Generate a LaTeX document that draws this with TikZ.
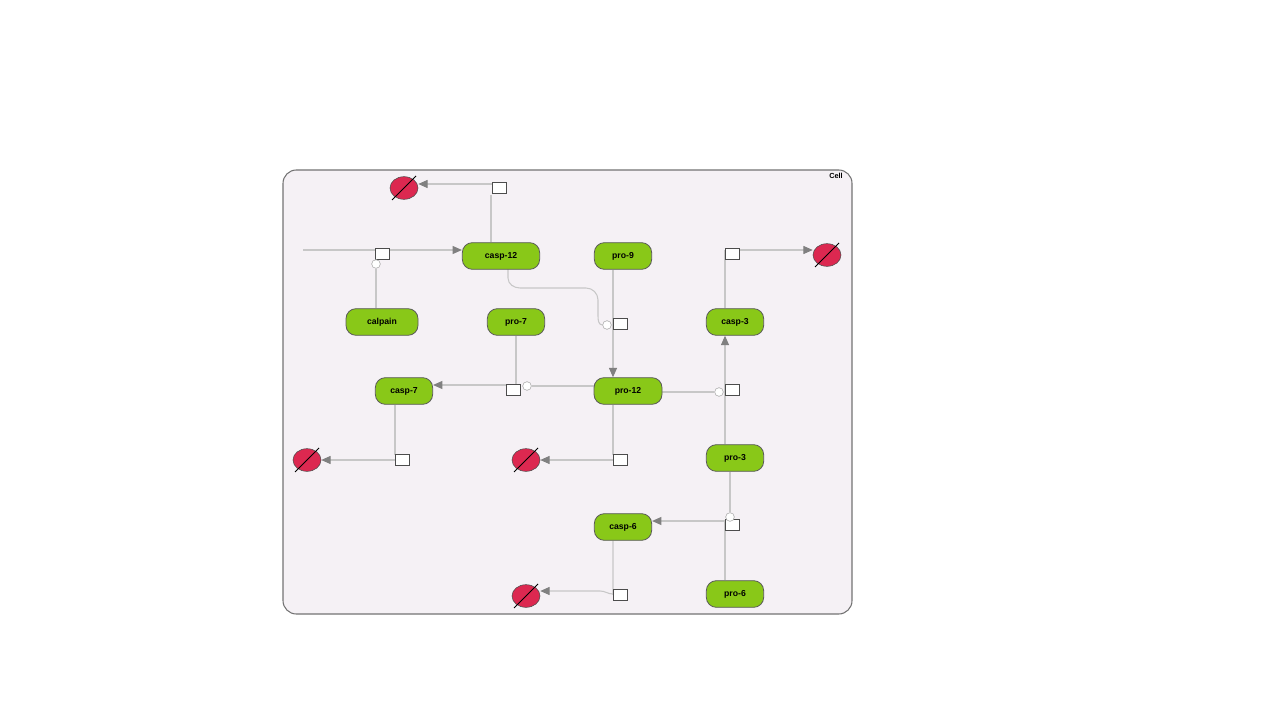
\documentclass[tikz,border=0pt]{standalone}
\usepackage{fontspec}
\setmainfont{Liberation Sans}
\usetikzlibrary{arrows.meta,shapes.geometric,calc}
\pgfdeclarelayer{bg}
\pgfsetlayers{bg,main}
\begin{document}
\begin{tikzpicture}[x=0.75pt,y=-0.75pt,
  sp/.style={draw=black!65,fill={rgb,255:red,137;green,200;blue,24},rounded corners=7.5pt,minimum height=20pt,minimum width=43pt,inner sep=1pt,font=\bfseries\fontsize{6.5}{7}\selectfont,line width=0.6pt},
  pr/.style={draw=black!70,fill=white,minimum width=10.5pt,minimum height=8pt,inner sep=0pt,line width=0.5pt},
  ci/.style={draw=black!35,fill=white,circle,minimum size=6.5pt,inner sep=0pt},
  dg/.style={draw=black!70,fill={rgb,255:red,220;green,40;blue,80},ellipse,minimum width=21pt,minimum height=17pt,inner sep=0pt},
  ln/.style={draw=black!22,line width=0.8pt},
  ar/.style={ln,-{Triangle[length=7pt,width=6pt,fill=black!50,color=black!50]}}]
\useasboundingbox (0,0) rectangle (1280,720);
\begin{pgfonlayer}{bg}
\draw[black!55,fill={rgb,255:red,245;green,241;blue,245},rounded corners=10pt,line width=0.8pt] (283,170) rectangle (852,614);
\end{pgfonlayer}
\node[font=\bfseries\fontsize{5.5}{6}\selectfont] (cell) at (836,176) {Cell};
% species
\node[sp,minimum width=58pt] (c12) at (501,256) {casp-12};
\node[sp] (p9) at (623,256) {pro-9};
\node[sp,minimum width=54pt] (cal) at (382,322) {calpain};
\node[sp] (p7) at (516,322) {pro-7};
\node[sp] (c3) at (735,322) {casp-3};
\node[sp] (c7) at (404,391) {casp-7};
\node[sp,minimum width=51pt] (p12) at (628,391) {pro-12};
\node[sp] (p3) at (735,458) {pro-3};
\node[sp] (c6) at (623,527) {casp-6};
\node[sp] (p6) at (735,594) {pro-6};
% degraded
\foreach \n/\x/\y in {d1/404/188,d2/827/255,d3/307/460,d4/526/460,d5/526/596}{
  \node[dg] (\n) at (\x,\y) {};
  \draw[black,line width=0.6pt] ($(\n.center)+(-12,12)$) -- ($(\n.center)+(12,-12)$);
}
% process squares
\node[pr] (q1) at (499,188) {};
\node[pr] (q2) at (382,254) {};
\node[pr] (q3) at (732,254) {};
\node[pr] (q4) at (620,324) {};
\node[pr] (q5) at (513,390) {};
\node[pr] (q6) at (732,390) {};
\node[pr] (q7) at (402,460) {};
\node[pr] (q8) at (620,460) {};
\node[pr] (q9) at (732,525) {};
\node[pr] (q10) at (620,595) {};
% circles
\node[ci] (o1) at (376,264) {};
\node[ci] (o2) at (607,325) {};
\node[ci] (o3) at (527,386) {};
\node[ci] (o4) at (719,392) {};
\node[ci] (o5) at (730,517) {};
\coordinate (in) at (303,250);
\begin{pgfonlayer}{bg}
\draw[ln] (c12.north -| 491,0) -- (491,195);
\draw[ar] (q1.west |- 0,184) -- (d1.east |- 0,184);
\draw[ar] (in) -- (c12.west |- 0,250);
\draw[ln] (cal.north -| o1) -- (o1);
\draw[ar] (p9.south -| 613,0) -- (p12.north -| 613,0);
\draw[ln] (508,269) -- (508,278) to[out=-90,in=180] (520,288) -- (586,288) to[out=0,in=90] (598,300) -- (598,316) to[out=-90,in=180] (o2.west);
\draw[ln] (p7.south -| 516,0) -- (516,385);
\draw[ar] (q5.west |- 0,385) -- (c7.east |- 0,385);
\draw[ln] (o3) -- (p12.west |- o3);
\draw[ln] (p12.east |- o4) -- (o4);
\draw[ar] (p3.north -| 725,0) -- (c3.south -| 725,0);
\draw[ln] (c3.north -| 725,0) -- (725,250);
\draw[ar] (725,250) -- (d2.west |- 0,250);
\draw[ln] (c7.south -| 395,0) -- (395,455);
\draw[ar] (q7.west |- 0,460) -- (d3.east |- 0,460);
\draw[ln] (p12.south -| 613,0) -- (613,455);
\draw[ar] (q8.west |- 0,460) -- (d4.east |- 0,460);
\draw[ln] (p6.north -| 725,0) -- (725,520);
\draw[ar] (q9.west |- 0,521) -- (c6.east |- 0,521);
\draw[ln] (p3.south -| 730,0) -- (o5);
\draw[ln] (c6.south -| 613,0) -- (613,594) -- (q10.west);
\draw[ar] (613,594) to[out=180,in=0] (600,591) -- (d5.east |- 0,591);
\end{pgfonlayer}
\end{tikzpicture}
\end{document}
